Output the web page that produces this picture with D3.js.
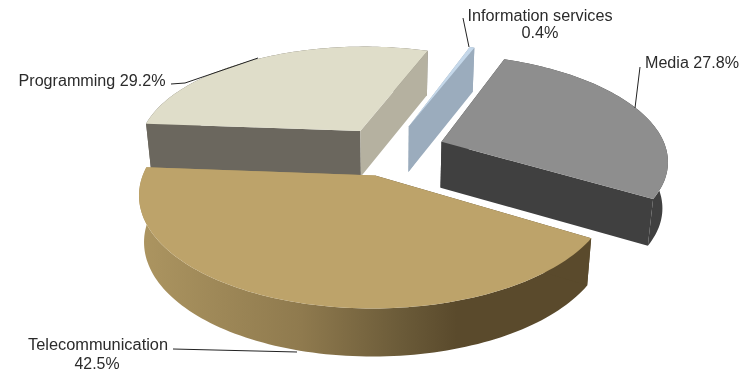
<!DOCTYPE html>
<html><head><meta charset="utf-8"><script src="https://cdn.jsdelivr.net/npm/d3@7"></script>
<style>html,body{margin:0;background:#fff}svg{display:block}</style></head><body>
<svg id="c" width="741" height="373"></svg>
<script>
const categories = ["Media","Telecommunication","Programming","Information services"];
const shares = [27.8,42.5,29.2,0.4];
const topColors = ["#8e8e8e","#bda36a","#dfddc9","#c5d8ea"];
const wallColors = ["#404040","url(#tg)","#6b675e","#9bacbd"];
const startCutColors = ["#404040","#5a4a2c","#6b675e","#9bacbd"];
const endCutColors = ["#404040","#a8925f","#b5b1a0","#9bacbd"];

const explode=[0.245,0.21,0.25,0.25], nudgeY=[-5,-1,-3,-5];
const ox=390,oy=155,Rx=225,Ry=104,persp=0.16,depth=46,shrink=0.98,startDeg=21;
const svg=d3.select("#c");
const g=svg.append("g").style("filter","blur(0.5px)");
const defs=svg.append("defs");
const tg=defs.append("linearGradient").attr("id","tg").attr("gradientUnits","userSpaceOnUse")
  .attr("x1",146).attr("x2",590).attr("y1",0).attr("y2",0);
[[0,"#ab9460"],[0.35,"#8f7a4e"],[0.58,"#6a5a38"],[0.7,"#5a4a2c"],[1,"#5a4a2c"]].forEach(s=>tg.append("stop").attr("offset",s[0]).attr("stop-color",s[1]));

const pie=d3.pie().sort(null).value(d=>d).startAngle(startDeg*Math.PI/180).endAngle((startDeg+360)*Math.PI/180);
const arcs=pie(shares);
const line=d3.line();
function proj(X,Y,low,ny){
  const w=1-persp*Y, s=low?shrink:1;
  return [ox+s*Rx*X/w, oy+ny+s*Ry*Y/w+(low?depth/Math.sqrt(w):0)];
}
function slice(a,i){
  const mid=(a.startAngle+a.endAngle)/2,e=explode[i];
  const dx=e*Math.sin(mid),dy=-e*Math.cos(mid);
  const pt=(r,t,low)=>proj(dx+r*Math.sin(t),dy-r*Math.cos(t),low,nudgeY[i]);
  const n=Math.max(2,Math.ceil((a.endAngle-a.startAngle)*40));
  const ts=d3.range(n+1).map(k=>a.startAngle+(a.endAngle-a.startAngle)*k/n);
  const topArc=ts.map(t=>pt(1,t,false)),lowArc=ts.map(t=>pt(1,t,true));
  const at=pt(0,0,false),ab=pt(0,0,true);
  const sl=topArc[0],sb=lowArc[0],el=topArc[n],eb=lowArc[n];
  const f=(pts,c)=>g.append("path").attr("d",line(pts)+"Z").attr("fill",c);
  f(topArc.concat(lowArc.slice().reverse()),wallColors[i]);
  f([at,sl,sb,ab],startCutColors[i]);
  f([at,el,eb,ab],endCutColors[i]);
  f([at,...topArc],topColors[i]);
}
// painter's order: back slices first, the near slice last
[2,3,0,1].forEach(i=>slice(arcs[i],i));

const ann=svg.append("g").style("filter","blur(0.35px)");
const leaders=[[[463,18],[469,47]],[[640,67],[635,108]],[[171,84],[185,83],[258,58]],[[173,349],[297,352]]];
leaders.forEach(l=>ann.append("path").attr("d",line(l)).attr("fill","none").attr("stroke","#222").attr("stroke-width",1));
const labels=[
 ["Information services",540,21,145],["0.4%",540,38,37],
 ["Media 27.8%",692,68,94],["Programming 29.2%",92,86,147],
 ["Telecommunication",98,350,140],["42.5%",97,369,45]];
ann.selectAll("text.l").data(labels).join("text").attr("class","l")
 .attr("x",d=>d[1]).attr("y",d=>d[2]).attr("text-anchor","middle")
 .attr("textLength",d=>d[3]).attr("lengthAdjust","spacingAndGlyphs")
 .attr("font-family","'Liberation Sans',Arial,sans-serif").attr("font-size",16).attr("fill","#2b2b2b")
 .text(d=>d[0]);
</script></body></html>
